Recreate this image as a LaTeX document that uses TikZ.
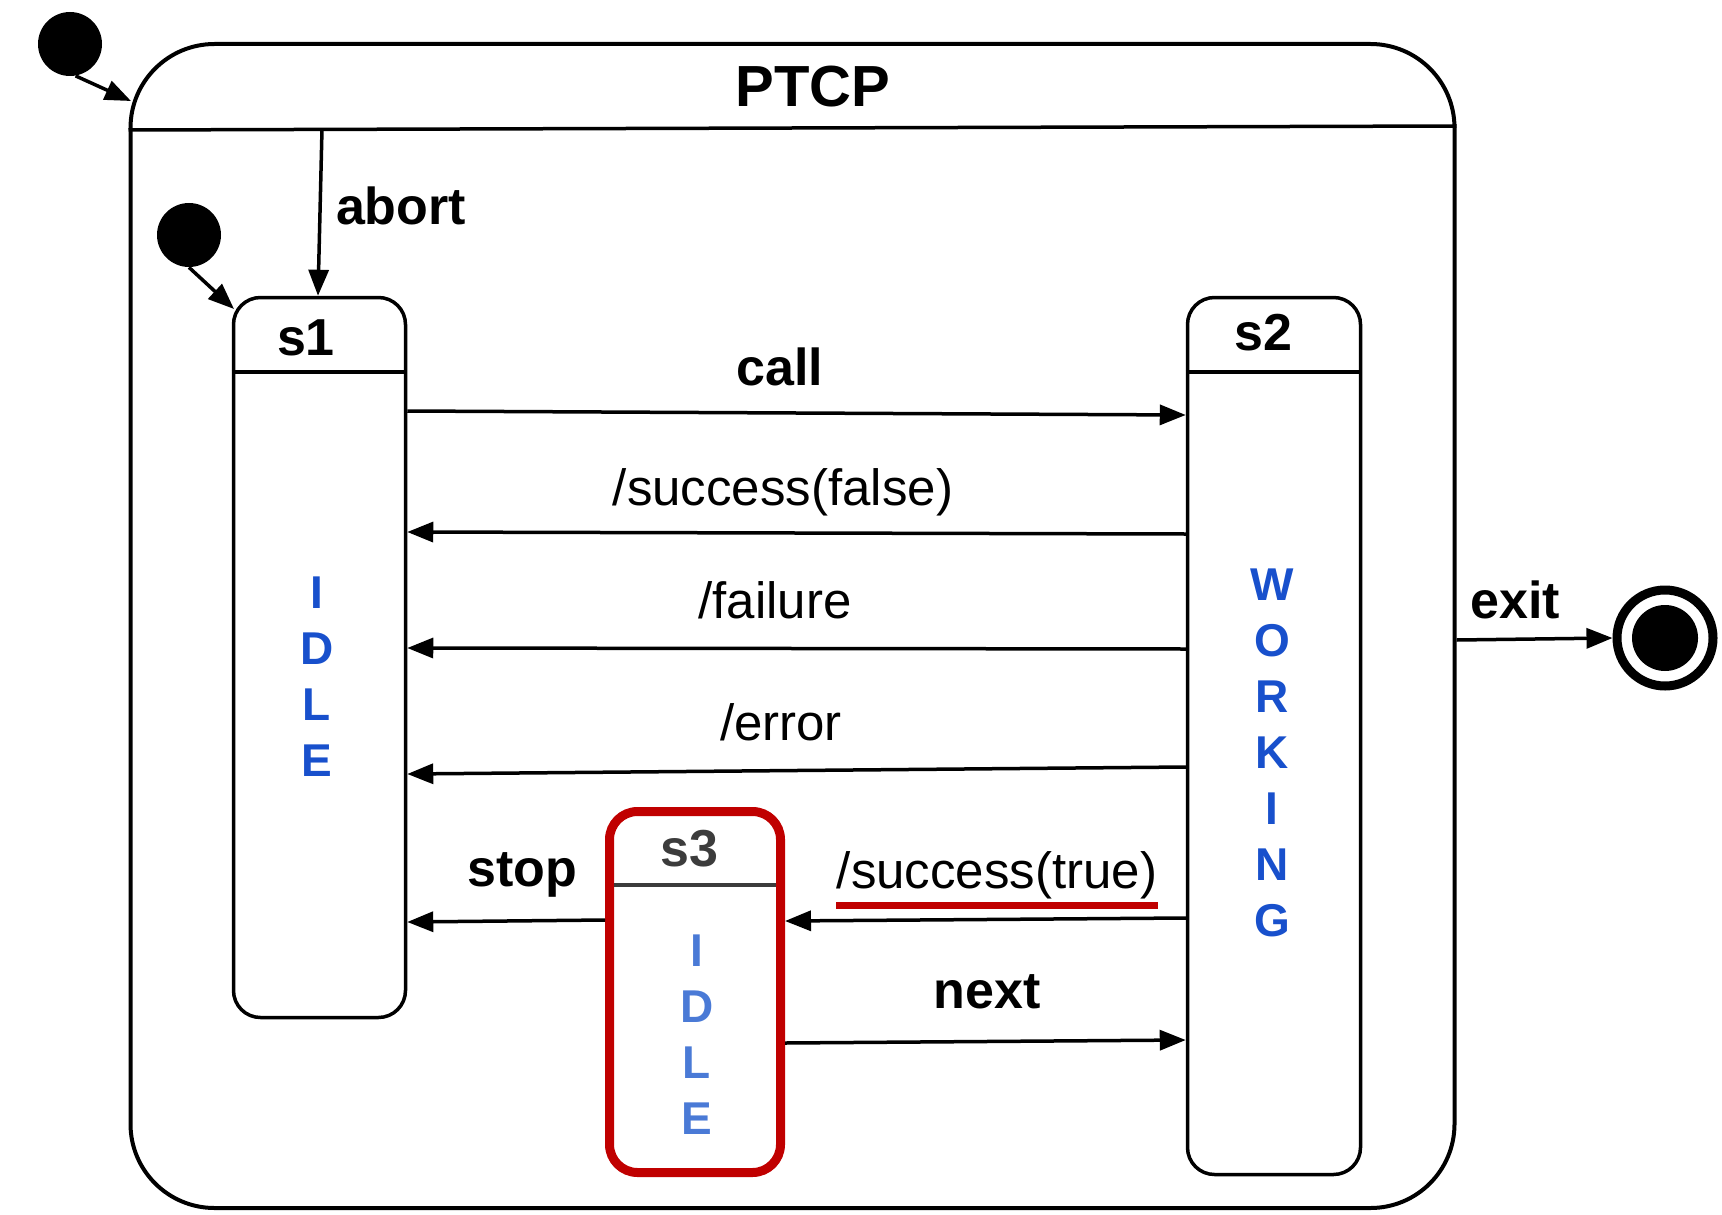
\documentclass[tikz,border=0pt]{standalone}
\usepackage{fontspec}
\setmainfont{Liberation Sans}
\usetikzlibrary{arrows.meta}
\definecolor{ptred}{RGB}{192,0,0}
\definecolor{ptblue}{RGB}{24,80,204}
\definecolor{ptlblue}{RGB}{74,122,214}
\definecolor{ptgray}{RGB}{60,60,60}
\begin{document}
\begin{tikzpicture}[x=0.5pt,y=-0.5pt,
  lbl/.style={anchor=base, inner sep=0pt, font=\fontsize{25.5}{30}\selectfont},
  blbl/.style={anchor=base, inner sep=0pt, font=\fontsize{26}{31}\selectfont\bfseries},
  st/.style={draw, line width=1.75pt, rounded corners=13.5pt, inner sep=0pt},
  tr/.style={line width=1.75pt, -{Triangle[length=13pt,width=10pt]}},
  letters/.style={align=center, inner sep=0pt, font=\fontsize{23}{28}\selectfont\bfseries},
  dot/.style={circle, fill=black, inner sep=0pt}
]
\useasboundingbox (0,0) rectangle (1722,1214);

% outer composite state
\node[st, line width=2pt, rounded corners=42pt, minimum width=662pt, minimum height=582pt] (ptcp) at (792.5,626) {};
\coordinate (h1) at (0,130);
\coordinate (h2) at (0,126);
\draw[line width=1.75pt] (ptcp.west |- h1) -- (ptcp.east |- h2);
\node[blbl, font=\fontsize{29}{34}\selectfont\bfseries] (title) at (813,107) {PTCP};

% initial states
\node[dot, minimum size=32pt] (i1) at (70,44) {};
\coordinate (e1) at (131,101);
\draw[tr] (i1.-80) -- (e1);

\node[dot, minimum size=32pt] (i2) at (189,235) {};

% states
\node[st, minimum width=86pt, minimum height=360pt] (s1) at (319.5,657.5) {};
\node[st, minimum width=86.5pt, minimum height=438.5pt] (s2) at (1274,736) {};
\node[st, draw=ptred, line width=4.5pt, rounded corners=14pt, minimum width=85.5pt, minimum height=180.5pt] (s3) at (695,992) {};

\coordinate (e2) at (234,309);
\draw[tr] (i2.south) -- (e2);

% dividers
\coordinate (d12) at (0,372);
\draw[line width=1.75pt] (s1.west |- d12) -- (s1.east |- d12);
\draw[line width=1.75pt] (s2.west |- d12) -- (s2.east |- d12);
\coordinate (d3) at (0,885);
\draw[ptgray, line width=1.75pt, shorten <=4.5pt, shorten >=4.5pt] (s3.west |- d3) -- (s3.east |- d3);

% state names
\node[blbl] (n1) at (306,355) {s1};
\node[blbl] (n2) at (1263,350) {s2};
\node[blbl, text=ptgray] (n3) at (689,866) {s3};

% vertical letters
\node[letters, text=ptblue] (w1) at (317,677) {I\\D\\L\\E};
\node[letters, text=ptblue] (w2) at (1272,752.5) {W\\O\\R\\K\\I\\N\\G};
\node[letters, text=ptlblue] (w3) at (697,1035) {I\\D\\L\\E};

% abort
\coordinate (a1) at (322,129);
\coordinate (a2) at (318,0);
\draw[tr] (a1) -- (a2 |- s1.north);
\node[blbl] (labort) at (401,225) {abort};

% transitions
\coordinate (c1) at (0,411); \coordinate (c2) at (0,415);
\draw[tr] (s1.east |- c1) -- (s2.west |- c2);
\node[blbl] (lcall) at (780,385) {call};

\coordinate (f1) at (0,534); \coordinate (f2) at (0,532);
\draw[tr] (s2.west |- f1) -- (s1.east |- f2);
\node[lbl] (lsf) at (783,505) {/success(false)};

\coordinate (g1) at (0,649); \coordinate (g2) at (0,648);
\draw[tr] (s2.west |- g1) -- (s1.east |- g2);
\node[lbl] (lfail) at (775,618) {/failure};

\coordinate (r1) at (0,767); \coordinate (r2) at (0,774);
\draw[tr] (s2.west |- r1) -- (s1.east |- r2);
\node[lbl] (lerr) at (781,740) {/error};

\coordinate (p1) at (0,920); \coordinate (p2) at (0,922);
\draw[tr] (s3.west |- p1) -- (s1.east |- p2);
\node[blbl] (lstop) at (522,886) {stop};

\coordinate (t1) at (0,918); \coordinate (t2) at (0,921);
\draw[tr] (s2.west |- t1) -- (s3.east |- t2);
\node[lbl] (lst) at (997,888) {/success(true)};
\draw[ptred, line width=3.5pt] ([yshift=-3.5pt]lst.south west) -- ([yshift=-3.5pt]lst.south east);

\coordinate (x1) at (0,1043); \coordinate (x2) at (0,1040);
\draw[tr] (s3.east |- x1) -- (s2.west |- x2);
\node[blbl] (lnext) at (987,1008) {next};

% final state
\node[circle, draw, line width=4.5pt, minimum size=48pt, inner sep=0pt] (fin) at (1665,638) {};
\node[dot, minimum size=33pt] (fin2) at (fin) {};
\coordinate (q1) at (0,640);
\draw[tr] (ptcp.east |- q1) -- (fin.west);
\node[blbl] (lexit) at (1515,618) {exit};
\end{tikzpicture}
\end{document}
